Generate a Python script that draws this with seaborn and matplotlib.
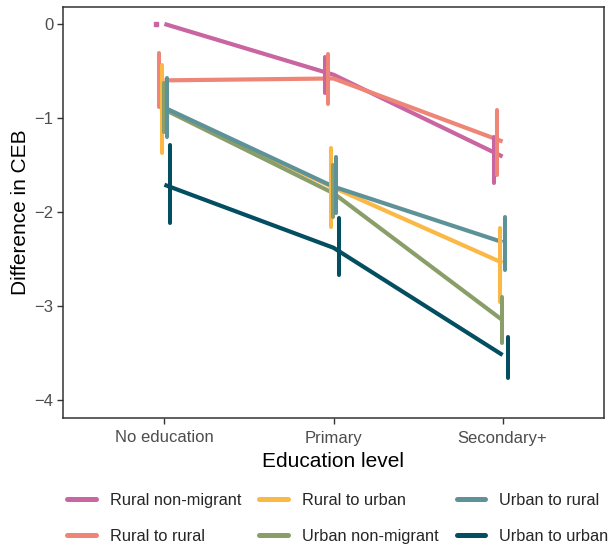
import matplotlib
matplotlib.use("Agg")
import matplotlib.pyplot as plt
import seaborn as sns
import pandas as pd
import numpy as np

education = ["No education", "Primary", "Secondary+"]
groups = ["Rural non-migrant", "Rural to rural", "Rural to urban",
          "Urban non-migrant", "Urban to rural", "Urban to urban"]

rural_nonmigrant = [0.00, -0.54, -1.41]
rural_nonmigrant_lo = [0.00, -0.73, -1.69]
rural_nonmigrant_hi = [0.00, -0.35, -1.20]

rural_to_rural = [-0.60, -0.58, -1.25]
rural_to_rural_lo = [-0.88, -0.85, -1.61]
rural_to_rural_hi = [-0.31, -0.32, -0.91]

rural_to_urban = [-0.90, -1.74, -2.54]
rural_to_urban_lo = [-1.37, -2.16, -2.96]
rural_to_urban_hi = [-0.44, -1.32, -2.17]

urban_nonmigrant = [-0.91, -1.80, -3.15]
urban_nonmigrant_lo = [-1.15, -2.05, -3.39]
urban_nonmigrant_hi = [-0.63, -1.50, -2.90]

urban_to_rural = [-0.89, -1.73, -2.32]
urban_to_rural_lo = [-1.20, -2.01, -2.62]
urban_to_rural_hi = [-0.58, -1.41, -2.05]

urban_to_urban = [-1.71, -2.38, -3.52]
urban_to_urban_lo = [-2.12, -2.67, -3.76]
urban_to_urban_hi = [-1.29, -2.06, -3.33]

colors = ["#C965A1", "#EE8577", "#FBB845", "#8A9E69", "#5E9299", "#044E61"]

est = [rural_nonmigrant, rural_to_rural, rural_to_urban,
       urban_nonmigrant, urban_to_rural, urban_to_urban]
los = [rural_nonmigrant_lo, rural_to_rural_lo, rural_to_urban_lo,
       urban_nonmigrant_lo, urban_to_rural_lo, urban_to_urban_lo]
his = [rural_nonmigrant_hi, rural_to_rural_hi, rural_to_urban_hi,
       urban_nonmigrant_hi, urban_to_rural_hi, urban_to_urban_hi]

rows = []
for g, e, lo, hi in zip(groups, est, los, his):
    for i, lev in enumerate(education):
        rows.append({"group": g, "level": lev, "x": i, "est": e[i], "lo": lo[i], "hi": hi[i]})
df = pd.DataFrame(rows)

sns.set_theme(style="white")
plt.rcParams["font.family"] = ["Liberation Sans", "DejaVu Sans"]

fig = plt.figure(figsize=(6.11, 5.46), dpi=100)
ax = fig.add_axes([63/611, 1-418/546, (604-63)/611, (418-7)/546])

palette = dict(zip(groups, colors))
sns.lineplot(data=df, x="x", y="est", hue="group", hue_order=groups,
             palette=palette, linewidth=3.0, ax=ax, legend=False,
             solid_capstyle="butt")

step = 0.0166
for k, g in enumerate(groups):
    sub = df[df["group"] == g]
    off = (k - 2.5) * step - 0.009
    ax.vlines(sub["x"] + off, sub["lo"], sub["hi"], color=palette[g],
              linewidth=2.9, capstyle="round")
    zero = sub[sub["lo"] == sub["hi"]]
    if len(zero):
        ax.plot(zero["x"] + off, zero["est"], marker="s", markersize=2.8,
                color=palette[g], linestyle="none")

ax.set_xlim(-0.6, 2.6)
ax.set_ylim(-4.19, 0.18)
ax.set_xticks(range(len(education)))
ax.set_xticklabels(education)
ax.set_yticks([0, -1, -2, -3, -4])
ax.set_yticklabels(["0", "\u22121", "\u22122", "\u22123", "\u22124"])
ax.tick_params(axis="both", which="both", length=4, width=1, color="#333333",
               labelcolor="#4D4D4D", labelsize=12, direction="out",
               bottom=True, left=True, pad=3)
ax.tick_params(axis="x", pad=5)
for s in ax.spines.values():
    s.set_color("#333333")
    s.set_linewidth(1.1)
ax.set_xlabel("Education level", fontsize=15, color="black", labelpad=5)
ax.set_ylabel("Difference in CEB", fontsize=15, color="black", labelpad=3)
ax.grid(False)

from matplotlib.lines import Line2D
handles = [Line2D([0], [0], color=c, linewidth=3.6) for c in colors]
fig.legend(handles, groups, loc="upper left", bbox_to_anchor=(67/611, 1-493/546),
           ncol=3, frameon=False, fontsize=11.8, handlelength=1.76,
           handletextpad=0.85, columnspacing=1.1, labelspacing=1.27,
           borderpad=0, borderaxespad=0)

fig.savefig("out.png", dpi=100, facecolor="white")
